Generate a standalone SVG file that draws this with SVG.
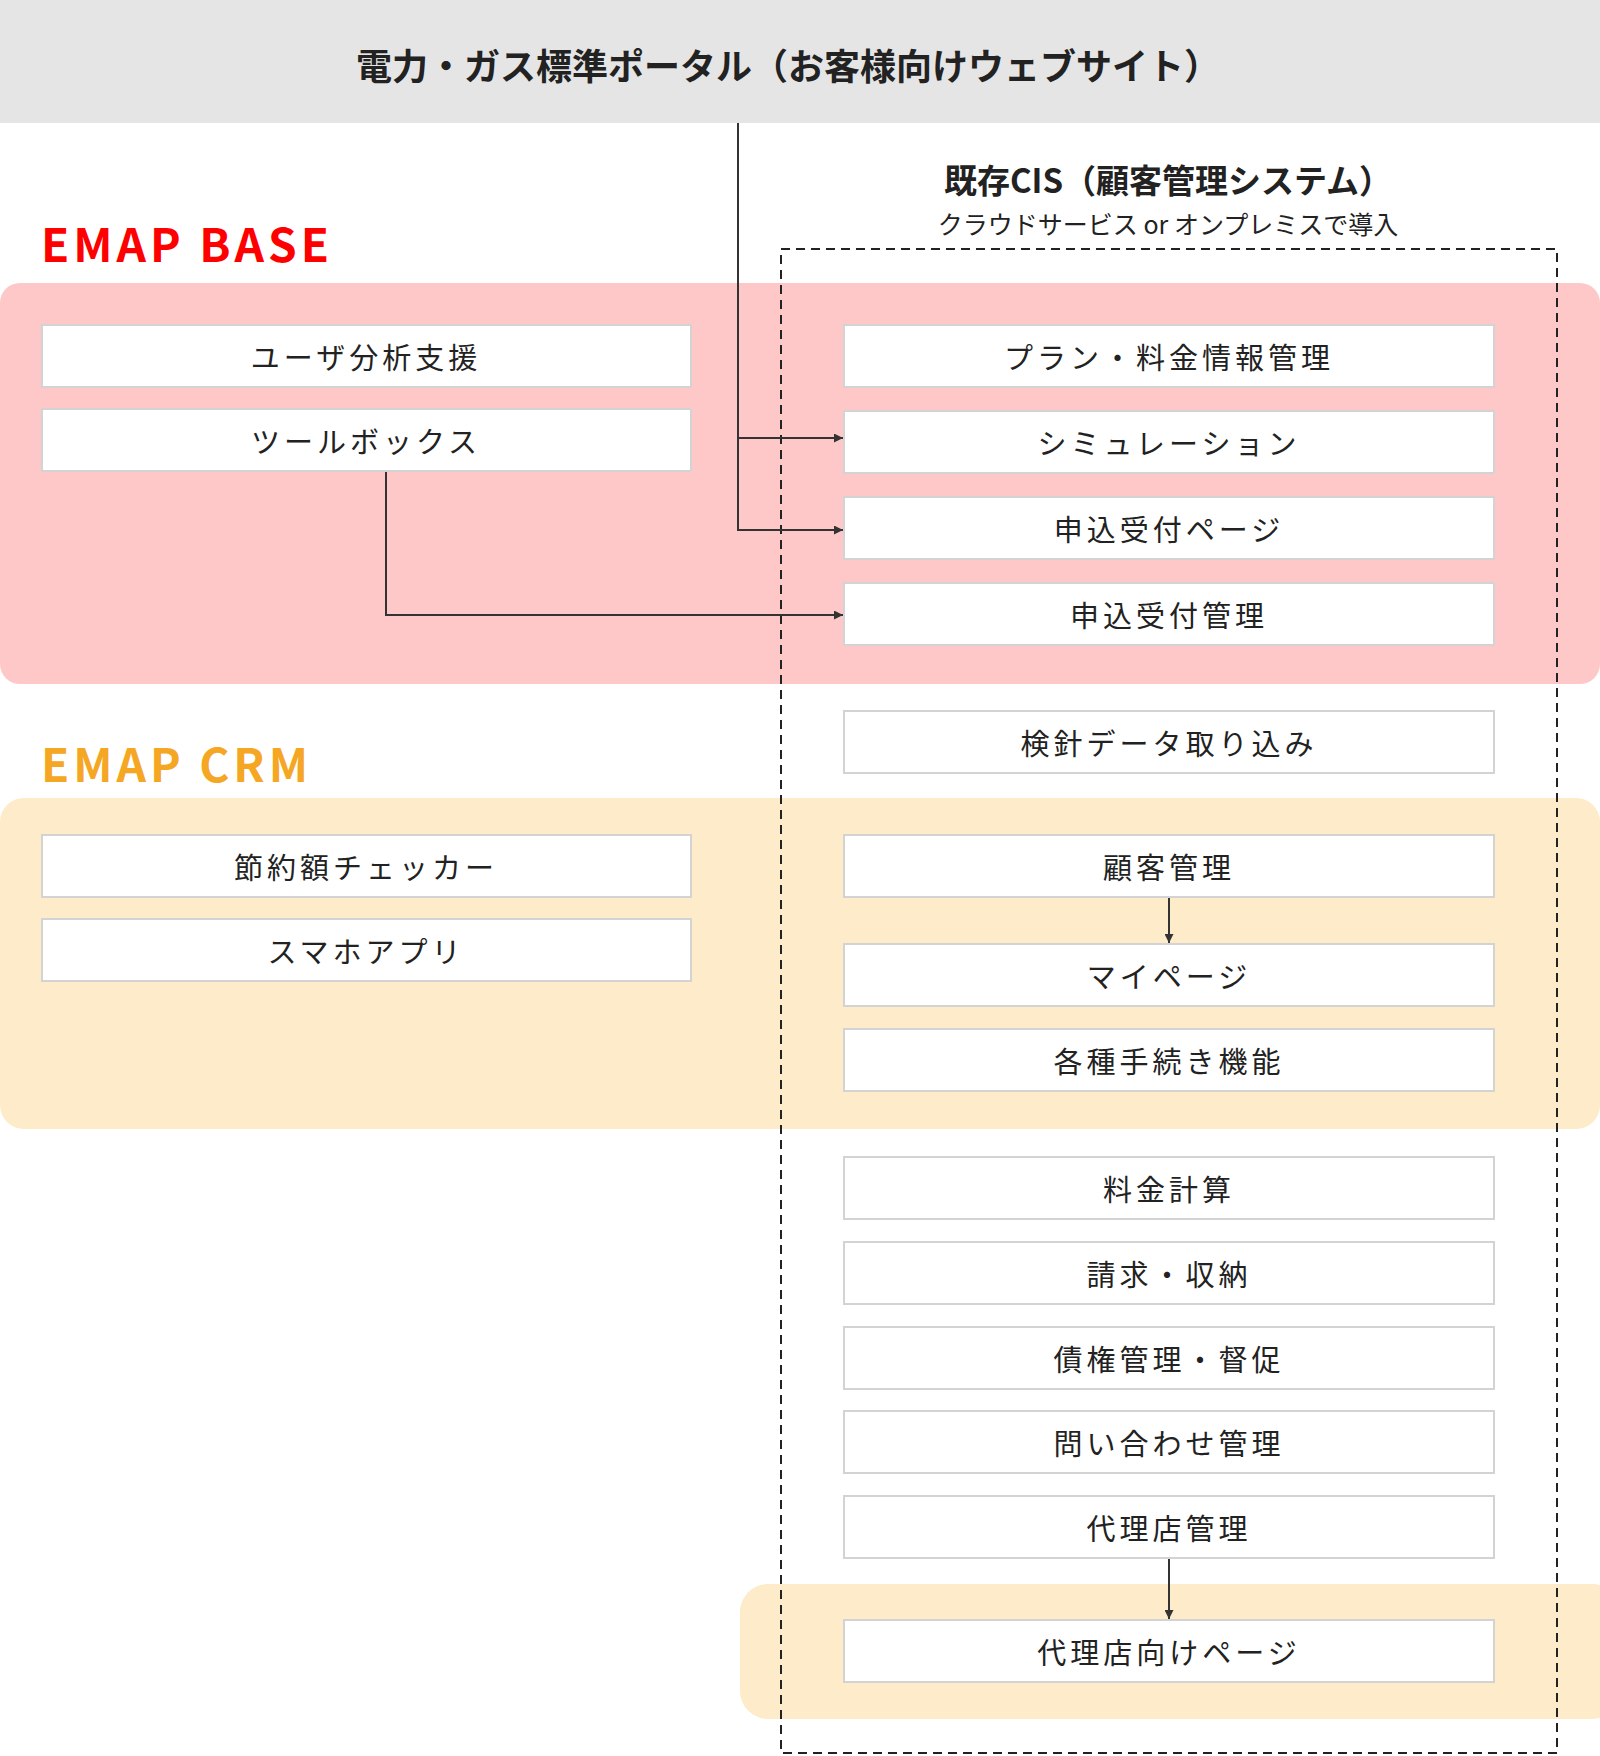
<svg xmlns="http://www.w3.org/2000/svg" width="1600" height="1756" viewBox="0 0 1600 1756">
<style>
text{font-family:"Noto Sans CJK JP","Noto Sans",sans-serif;}
.b rect{fill:#fff;stroke:#d3d3d3;stroke-width:2}
.b text{font-size:29px;letter-spacing:4px;text-anchor:middle;dominant-baseline:central;fill:#222}
.c{stroke:#333;stroke-width:2;fill:none}
</style>
<defs><marker id="a" viewBox="0 0 10 10" refX="10" refY="5" markerWidth="9" markerHeight="9" markerUnits="userSpaceOnUse" orient="auto"><path d="M0,0L10,5L0,10z" fill="#333"/></marker></defs>
<rect x="0" y="0" width="1600" height="123" fill="#e5e5e5"/>
<text x="788" y="64" font-size="36" font-weight="bold" text-anchor="middle" dominant-baseline="central" fill="#222">電力・ガス標準ポータル（お客様向けウェブサイト）</text>
<rect x="0" y="283" width="1600" height="401" rx="20" fill="#fec8c8"/>
<rect x="0" y="798" width="1600" height="331" rx="24" fill="#fdebc9"/>
<rect x="740" y="1584" width="880" height="135" rx="28" fill="#fdebc9"/>
<text x="41" y="262" font-size="46" font-weight="bold" fill="#f00" letter-spacing="4" font-family="'Noto Sans',sans-serif">EMAP BASE</text>
<text x="41" y="782" font-size="46" font-weight="bold" fill="#f5a623" letter-spacing="4" font-family="'Noto Sans',sans-serif">EMAP CRM</text>
<text x="1168" y="179" font-size="33" font-weight="bold" text-anchor="middle" dominant-baseline="central" fill="#222">既存CIS（顧客管理システム）</text>
<text x="1168" y="223" font-size="25" text-anchor="middle" dominant-baseline="central" fill="#222">クラウドサービス or オンプレミスで導入</text>
<rect x="781" y="249" width="776" height="1504" fill="none" stroke="#222" stroke-width="2" stroke-dasharray="9,6"/>
<g class="b">
<g id="n1"><rect x="42" y="325" width="649" height="62"/><text x="366" y="356">ユーザ分析支援</text></g>
<g id="n2"><rect x="42" y="409" width="649" height="62"/><text x="366" y="440">ツールボックス</text></g>
<g id="n3"><rect x="42" y="835" width="649" height="62"/><text x="366" y="866">節約額チェッカー</text></g>
<g id="n4"><rect x="42" y="919" width="649" height="62"/><text x="366" y="950">スマホアプリ</text></g>
<g id="r1"><rect x="844" y="325" width="650" height="62"/><text x="1169" y="356">プラン・料金情報管理</text></g>
<g id="r2"><rect x="844" y="411" width="650" height="62"/><text x="1169" y="442">シミュレーション</text></g>
<g id="r3"><rect x="844" y="497" width="650" height="62"/><text x="1169" y="528">申込受付ページ</text></g>
<g id="r4"><rect x="844" y="583" width="650" height="62"/><text x="1169" y="614">申込受付管理</text></g>
<g id="r5"><rect x="844" y="711" width="650" height="62"/><text x="1169" y="742">検針データ取り込み</text></g>
<g id="r6"><rect x="844" y="835" width="650" height="62"/><text x="1169" y="866">顧客管理</text></g>
<g id="r7"><rect x="844" y="944" width="650" height="62"/><text x="1169" y="975">マイページ</text></g>
<g id="r8"><rect x="844" y="1029" width="650" height="62"/><text x="1169" y="1060">各種手続き機能</text></g>
<g id="r9"><rect x="844" y="1157" width="650" height="62"/><text x="1169" y="1188">料金計算</text></g>
<g id="r10"><rect x="844" y="1242" width="650" height="62"/><text x="1169" y="1273">請求・収納</text></g>
<g id="r11"><rect x="844" y="1327" width="650" height="62"/><text x="1169" y="1358">債権管理・督促</text></g>
<g id="r12"><rect x="844" y="1411" width="650" height="62"/><text x="1169" y="1442">問い合わせ管理</text></g>
<g id="r13"><rect x="844" y="1496" width="650" height="62"/><text x="1169" y="1527">代理店管理</text></g>
<g id="r14"><rect x="844" y="1620" width="650" height="62"/><text x="1169" y="1651">代理店向けページ</text></g>
</g>
<g id="connectors" class="c">
<path d="M738,123V530H843" marker-end="url(#a)"/>
<path d="M738,438H843" marker-end="url(#a)"/>
<path d="M386,472V615H843" marker-end="url(#a)"/>
<path d="M1169,898V943" marker-end="url(#a)"/>
<path d="M1169,1559V1619" marker-end="url(#a)"/>
</g>
</svg>
